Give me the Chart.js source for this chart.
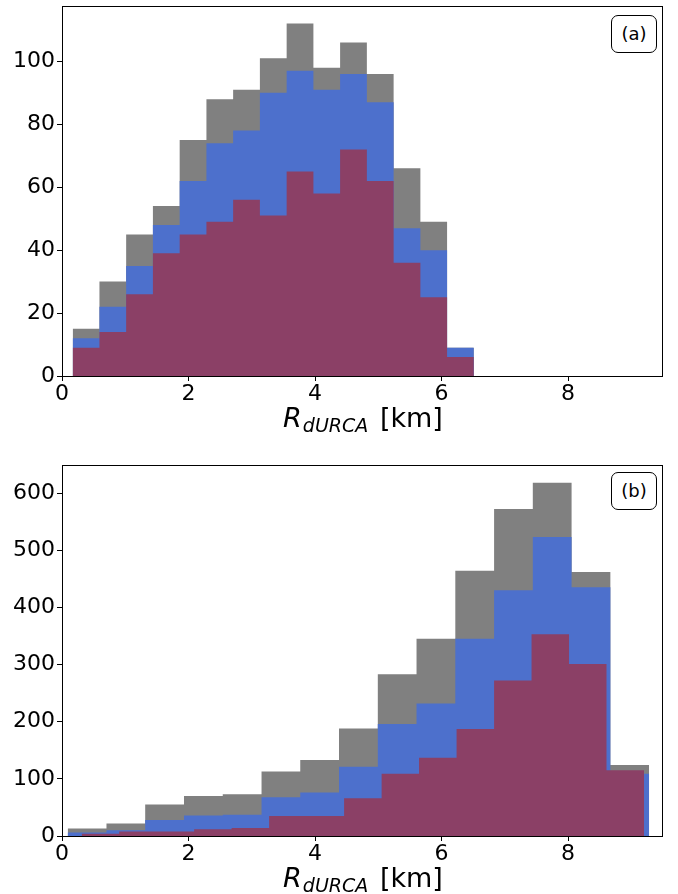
<!DOCTYPE html>
<html>
<head>
<meta charset="utf-8">
<script src="https://cdn.jsdelivr.net/npm/chart.js@4/dist/chart.umd.min.js"></script>
<style>
  body { margin: 0; background: #fff; }
  #wrap { position: relative; width: 678px; height: 894px; overflow: hidden; }
  canvas { position: absolute; left: 0; }
  .xlabel {
    position: absolute; left: 363px; transform: translateX(-50%);
    font-family: "DejaVu Sans", sans-serif; font-size: 27px; line-height: 26px;
    white-space: nowrap; color: #000;
  }
  .xlabel i { margin-right: 1px; }
  .xlabel .sub { font-size: 19px; font-style: italic; position: relative; top: 5px; margin-right: 3px; }
  .tag {
    position: absolute; left: 611px; width: 44px; height: 36px;
    border: 1px solid #000; border-radius: 7px; background: #fff;
    font-family: "DejaVu Sans", sans-serif; font-size: 18px; line-height: 36px;
    text-align: center; color: #000;
  }
</style>
</head>
<body>
<div id="wrap">
  <canvas id="chartA" width="678" height="447" style="top:0"></canvas>
  <canvas id="chartB" width="678" height="447" style="top:447px"></canvas>
  <div class="xlabel" style="top:405px"><i>R</i><span class="sub">dURCA</span> [km]</div>
  <div class="xlabel" style="top:865px"><i>R</i><span class="sub">dURCA</span> [km]</div>
  <div class="tag" style="top:15px">(a)</div>
  <div class="tag" style="top:472px">(b)</div>
</div>
<script>
// tick labels
const xTicks = [0, 2, 4, 6, 8];
const yTicksA = [0, 20, 40, 60, 80, 100];
const yTicksB = [0, 100, 200, 300, 400, 500, 600];

// panel (a): all three histograms share the same bins
const edgesA = [0.169, 0.592, 1.014, 1.437, 1.860, 2.283, 2.705, 3.128, 3.551, 3.974, 4.396, 4.819, 5.242, 5.665, 6.087, 6.510];
const grayA = [15, 30, 45, 54, 75, 88, 91, 101, 112, 98, 106, 96, 66, 49, 9];
const blueA = [12, 22, 35, 48, 62, 74, 78, 90, 97, 91, 96, 87, 47, 40, 9];
const maroonA = [9, 14, 26, 39, 45, 49, 56, 51, 65, 58, 72, 62, 36, 25, 6];

// panel (b): gray and blue share bins, maroon has its own
const edgesB = [0.090, 0.703, 1.315, 1.928, 2.541, 3.154, 3.766, 4.379, 4.992, 5.604, 6.217, 6.830, 7.442, 8.055, 8.668, 9.281];
const edgesBMaroon = [0.311, 0.904, 1.496, 2.089, 2.681, 3.274, 3.867, 4.459, 5.052, 5.644, 6.237, 6.830, 7.422, 8.015, 8.607, 9.200];
const grayB = [13, 22, 55, 70, 73, 113, 133, 188, 283, 345, 464, 572, 618, 462, 124];
const blueB = [6, 10, 28, 36, 37, 68, 76, 121, 196, 232, 345, 430, 523, 435, 109];
const maroonB = [4, 8, 8, 12, 14, 35, 35, 66, 109, 137, 187, 272, 353, 301, 115];

const GRAY = "rgb(128,128,128)";
const BLUE = "rgb(77,112,204)";
const MAROON = "rgb(139,64,102)";

Chart.defaults.font.family = "'DejaVu Sans', sans-serif";
Chart.defaults.font.size = 22;
Chart.defaults.color = "#000";

// step outline of a histogram, closed down to zero at both ends
function histPoints(edges, counts) {
  const pts = [{ x: edges[0], y: 0 }];
  counts.forEach((c, i) => pts.push({ x: edges[i], y: c }));
  pts.push({ x: edges[edges.length - 1], y: 0 });
  return pts;
}

function histSet(edges, counts, color, order) {
  return {
    data: histPoints(edges, counts),
    stepped: true,
    fill: "origin",
    backgroundColor: color,
    borderWidth: 0,
    borderColor: "rgba(0,0,0,0)",
    pointRadius: 0,
    order: order
  };
}

// box around the plot area, like matplotlib spines
const frame = {
  id: "frame",
  afterDatasetsDraw(chart) {
    const a = chart.chartArea;
    const ctx = chart.ctx;
    ctx.save();
    ctx.strokeStyle = "#000";
    ctx.lineWidth = 1;
    ctx.strokeRect(a.left + 0.5, a.top + 0.5, a.right - a.left - 1, a.bottom - a.top);
    ctx.restore();
  }
};

function makeChart(id, datasets, yMax, yTicks, padTop, xAxisH) {
  return new Chart(document.getElementById(id), {
    type: "line",
    data: { datasets: datasets },
    options: {
      responsive: false,
      animation: false,
      events: [],
      layout: { padding: { top: padTop, right: 15, left: 0, bottom: 0 } },
      plugins: { legend: { display: false }, tooltip: { enabled: false } },
      scales: {
        x: {
          type: "linear",
          min: 0,
          max: 9.5,
          border: { display: false },
          grid: { drawOnChartArea: false, tickLength: 5, tickColor: "#000" },
          ticks: { padding: 0, maxRotation: 0 },
          afterBuildTicks: (s) => { s.ticks = xTicks.map(v => ({ value: v })); },
          afterFit: (s) => { s.height = xAxisH; s.paddingLeft = 0; s.paddingRight = 0; }
        },
        y: {
          min: 0,
          max: yMax,
          border: { display: false },
          grid: { drawOnChartArea: false, tickLength: 5, tickColor: "#000" },
          ticks: { padding: 2 },
          afterBuildTicks: (s) => { s.ticks = yTicks.map(v => ({ value: v })); },
          afterFit: (s) => { s.width = 62; s.paddingTop = 0; s.paddingBottom = 0; }
        }
      }
    },
    plugins: [frame]
  });
}

makeChart("chartA", [
  histSet(edgesA, grayA, GRAY, 3),
  histSet(edgesA, blueA, BLUE, 2),
  histSet(edgesA, maroonA, MAROON, 1)
], 117.6, yTicksA, 6, 71);

makeChart("chartB", [
  histSet(edgesB, grayB, GRAY, 3),
  histSet(edgesB, blueB, BLUE, 2),
  histSet(edgesBMaroon, maroonB, MAROON, 1)
], 649, yTicksB, 18, 58);
</script>
</body>
</html>
